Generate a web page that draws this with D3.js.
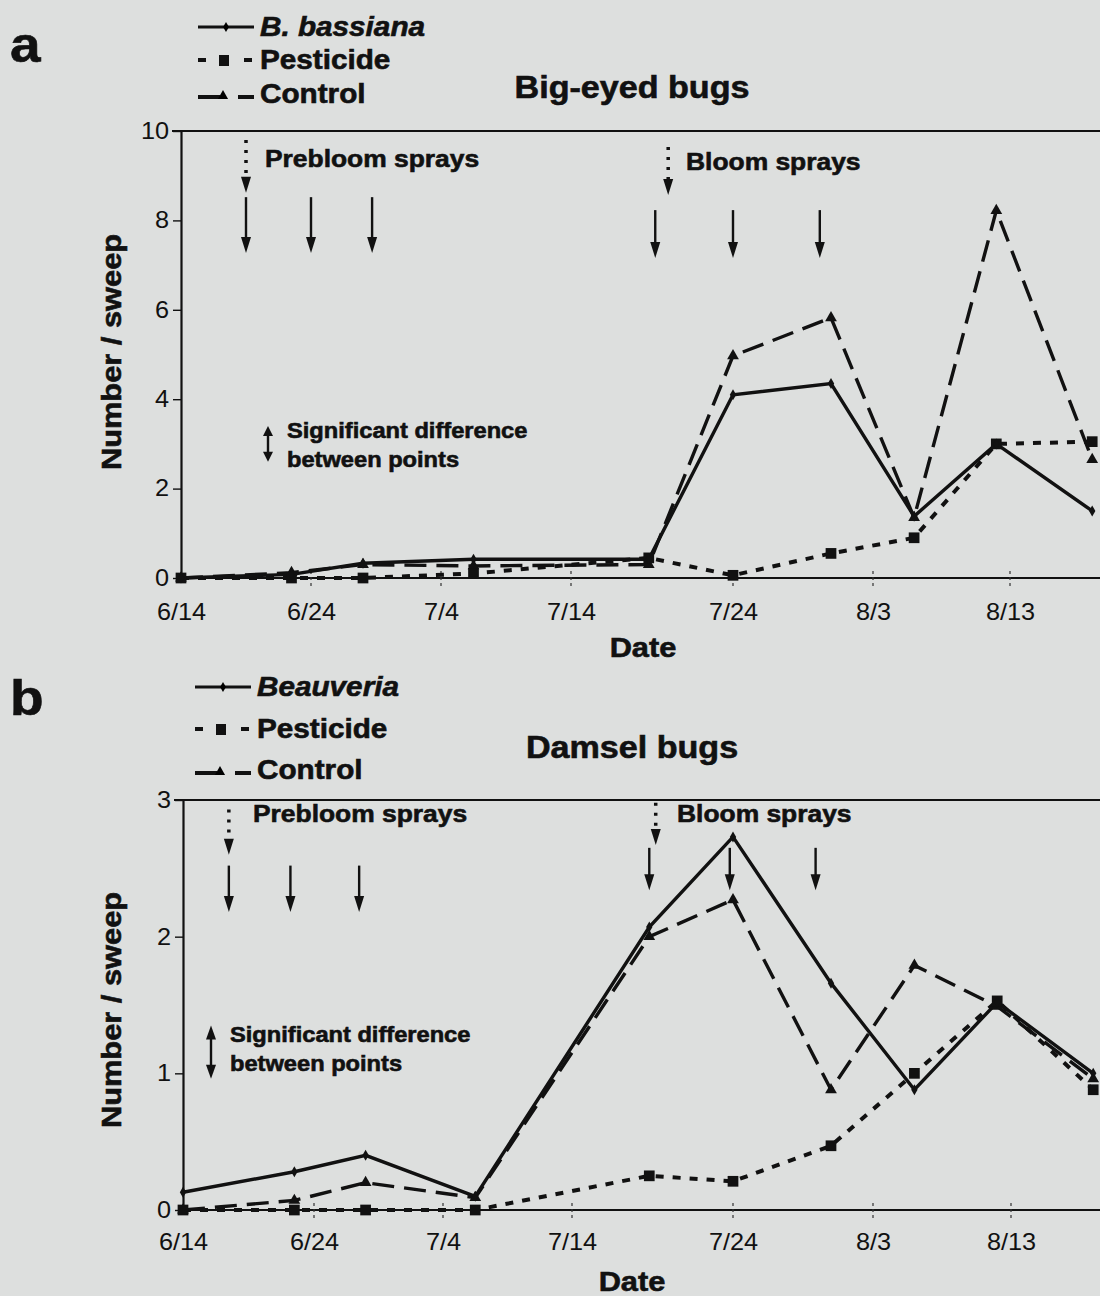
<!DOCTYPE html>
<html><head>
<meta charset="utf-8">
<script src="https://d3js.org/d3.v7.min.js"></script>
<style>
  body { margin: 0; background: #dddfde; }
  text { font-family: "Liberation Sans", Arial, sans-serif; fill: #111; }
</style>
</head>
<body>
<div id="chart"></div>
<script>

// Sampling dates, as days after 6/14
const sampleDays = [0, 8.5, 14, 22.5, 34.8, 40, 47, 53, 59, 66];
const tickDays = [0, 10, 20, 30, 40, 50, 60];
const tickLabels = ["6/14", "6/24", "7/4", "7/14", "7/24", "8/3", "8/13"];

// a) Big-eyed bugs
const bigBassiana = [0, 0.08, 0.33, 0.42, 0.42, 4.1, 4.35, 1.38, 3.0, 1.5];
const bigPesticide = [0, 0, 0, 0.1, 0.45, 0.06, 0.55, 0.9, 3.0, 3.05];
const bigControl = [0, 0.12, 0.3, 0.27, 0.3, 4.97, 5.82, 1.35, 8.22, 2.65];

// b) Damsel bugs
const damBeauveria = [0.13, 0.28, 0.4, 0.1, 2.07, 2.73, 1.66, 0.88, 1.52, 1.0];
const damPesticide = [0, 0, 0, 0, 0.25, 0.21, 0.47, 1.0, 1.53, 0.88];
const damControl = [0, 0.07, 0.2, 0.09, 2.0, 2.27, 0.88, 1.79, 1.49, 0.96];

// spray days (dotted = first, solid = the rest)
const bigPrebloom = [5, 10, 14.7], bigPrebloomDotted = 5;
const bigBloom = [35.2, 40, 46.2], bigBloomDotted = 36;
const damPrebloom = [3.5, 8.2, 13.5], damPrebloomDotted = 3.5;
const damBloom = [34.8, 39.8, 45.9], damBloomDotted = 35.2;

const SX = 1.1;   // the figure's font is wide

const svg = d3.select("#chart").append("svg")
              .attr("width", 1100).attr("height", 1296);

function txt(g, x, y, s, size, o = {}) {
  return g.append("text")
          .attr("transform", "translate(" + x + "," + y + ")" + (o.rot ? " rotate(-90)" : "") + " scale(" + SX + ",1)")
          .attr("font-size", size)
          .attr("font-weight", o.bold ? 700 : 400)
          .attr("font-style", o.italic ? "italic" : null)
          .attr("text-anchor", o.anchor || "start")
          .attr("stroke", o.bold ? "#111" : null)
          .attr("stroke-width", o.bold ? 0.6 : null)
          .text(s);
}

function head(g, x, tip, dir, len = 16, w = 5) {
  // dir = 1 points down, -1 points up
  g.append("path")
   .attr("d", "M" + (x - w) + "," + (tip - dir * len) + "L" + (x + w) + "," + (tip - dir * len) + "L" + x + "," + tip + "Z")
   .attr("fill", "#111");
}

function arrow(g, x, yTop, yTip, dotted) {
  g.append("line")
   .attr("x1", x).attr("x2", x)
   .attr("y1", yTop).attr("y2", yTip - 14)
   .attr("stroke", "#111")
   .attr("stroke-width", dotted ? 3.5 : 2.4)
   .attr("stroke-dasharray", dotted ? "3,7" : null);
  head(g, x, yTip, 1);
}

function drawPanel(p) {
  const g = svg.append("g");
  const x = d3.scaleLinear().domain([0, 10, 20, 30, 40, 50, 60, 70]).range(p.xRange);
  const y = d3.scaleLinear().domain([0, p.yMax]).range([p.y0, p.yTop]);
  const left = p.xRange[0];

  // panel letter, legend, title
  txt(g, p.letter[0], p.letter[1], p.letter[2], 50, { bold: true });

  const lg = g.append("g");
  const lx = p.legendX;
  p.legendY.forEach((ly, i) => {
    txt(lg, lx + 62, ly, p.names[i], 27, { bold: true, italic: i === 0 });
  });
  let ly = p.legendY[0] - 9;
  lg.append("line").attr("x1", lx).attr("x2", lx + 56).attr("y1", ly).attr("y2", ly)
    .attr("stroke", "#111").attr("stroke-width", 3);
  lg.append("path").attr("d", d3.symbol(d3.symbolDiamond, 30)()).attr("transform", "translate(" + (lx + 28) + "," + ly + ")");
  ly = p.legendY[1] - 9;
  lg.append("line").attr("x1", lx).attr("x2", lx + 8).attr("y1", ly).attr("y2", ly).attr("stroke", "#111").attr("stroke-width", 4);
  lg.append("line").attr("x1", lx + 46).attr("x2", lx + 54).attr("y1", ly).attr("y2", ly).attr("stroke", "#111").attr("stroke-width", 4);
  lg.append("rect").attr("x", lx + 21).attr("y", ly - 5).attr("width", 10).attr("height", 11).attr("fill", "#111");
  ly = p.legendY[2] - 6;
  lg.append("line").attr("x1", lx).attr("x2", lx + 22).attr("y1", ly).attr("y2", ly).attr("stroke", "#111").attr("stroke-width", 4);
  lg.append("line").attr("x1", lx + 40).attr("x2", lx + 56).attr("y1", ly).attr("y2", ly).attr("stroke", "#111").attr("stroke-width", 4);
  lg.append("path").attr("d", d3.symbol(d3.symbolTriangle, 45)()).attr("transform", "translate(" + (lx + 25) + "," + (ly - 1) + ")");

  txt(g, 632, p.titleY, p.title, 31, { bold: true, anchor: "middle" });

  // frame
  g.append("line").attr("x1", left - 9).attr("x2", 1100).attr("y1", y(p.yMax)).attr("y2", y(p.yMax))
   .attr("stroke", "#111").attr("stroke-width", 2.2);
  g.append("line").attr("x1", left).attr("x2", 1100).attr("y1", y(0)).attr("y2", y(0))
   .attr("stroke", "#111").attr("stroke-width", 2.2);

  // y axis
  const yAxis = g.append("g").attr("transform", "translate(" + left + ",0)")
                 .call(d3.axisLeft(y).tickValues(p.yTicks).tickFormat(d3.format("d"))
                         .tickSizeInner(8).tickSizeOuter(0).tickPadding(3));
  yAxis.select(".domain").attr("stroke", "#111").attr("stroke-width", 2.2);
  yAxis.selectAll(".tick line").attr("stroke", "#111").attr("stroke-width", 1.4);
  yAxis.selectAll(".tick text").attr("font-size", 23).attr("fill", "#111")
       .attr("font-family", "Liberation Sans, Arial, sans-serif")
       .attr("transform", "scale(" + SX + ",1)").attr("x", -12 / SX);

  // x axis labels
  const xAxis = g.append("g").attr("transform", "translate(0," + y(0) + ")")
                 .call(d3.axisBottom(x).tickValues(tickDays).tickFormat((d, i) => tickLabels[i]).tickSize(0).tickPadding(p.xPad));
  xAxis.select(".domain").remove();
  xAxis.selectAll(".tick text").attr("font-size", 23).attr("fill", "#111")
       .attr("font-family", "Liberation Sans, Arial, sans-serif")
       .attr("transform", "scale(" + SX + ",1)");
  // dashed date ticks crossing the axis
  g.selectAll(".dtick").data(tickDays.slice(1)).join("line")
   .attr("x1", d => x(d)).attr("x2", d => x(d))
   .attr("y1", y(0) - 7).attr("y2", y(0) + 9)
   .attr("stroke", "#333").attr("stroke-width", 1.2).attr("stroke-dasharray", "3,3");

  txt(g, p.dateX, p.dateY, "Date", 28, { bold: true, anchor: "middle" });
  txt(g, 121, p.ylabY, "Number / sweep", 28, { bold: true, anchor: "middle", rot: true });

  // spray arrows
  const ag = g.append("g");
  arrow(ag, x(p.preDot), y(p.dotTop[0]), y(p.dotTip[0]), true);
  p.pre.forEach(d => arrow(ag, x(d), y(p.solTop[0]), y(p.solTip[0]), false));
  arrow(ag, x(p.bloomDot), y(p.dotTop[1]), y(p.dotTip[1]), true);
  p.bloom.forEach(d => arrow(ag, x(d), y(p.solTop[1]), y(p.solTip[1]), false));
  txt(g, p.preText[0], p.preText[1], "Prebloom sprays", 24, { bold: true });
  txt(g, p.bloomText[0], p.bloomText[1], "Bloom sprays", 24, { bold: true });

  // significance legend
  const sx0 = p.sig[0], st = y(p.sig[1]), sb = y(p.sig[2]), hl = p.sig[4];
  ag.append("line").attr("x1", sx0).attr("x2", sx0).attr("y1", st + hl - 2).attr("y2", sb - hl + 2)
    .attr("stroke", "#111").attr("stroke-width", 2.4);
  head(ag, sx0, st, -1, hl, 5);
  head(ag, sx0, sb, 1, hl, 5);
  txt(g, sx0 + 19, p.sig[3], "Significant difference", 21.5, { bold: true });
  txt(g, sx0 + 19, p.sig[3] + 29, "between points", 21.5, { bold: true });

  // series
  const line = d3.line().x((d, i) => x(sampleDays[i])).y(d => y(d));
  g.append("path").attr("d", line(p.series[2])).attr("fill", "none")
   .attr("stroke", "#111").attr("stroke-width", 3.4).attr("stroke-dasharray", "22,10");
  g.append("path").attr("d", line(p.series[1])).attr("fill", "none")
   .attr("stroke", "#111").attr("stroke-width", 4).attr("stroke-dasharray", "8,9");
  g.append("path").attr("d", line(p.series[0])).attr("fill", "none")
   .attr("stroke", "#111").attr("stroke-width", 3.4);

  const shapes = [[d3.symbolDiamond, 35], [d3.symbolSquare, 115], [d3.symbolTriangle, 60]];
  [2, 1, 0].forEach(s => {
    g.selectAll(null).data(p.series[s]).join("path")
     .attr("d", d3.symbol(shapes[s][0], shapes[s][1])())
     .attr("transform", (d, i) => "translate(" + x(sampleDays[i]) + "," + y(d) + ")")
     .attr("fill", "#111");
  });
}

drawPanel({
  letter: [10, 62, "a"], legendX: 198, legendY: [36, 69, 103],
  names: ["B. bassiana", "Pesticide", "Control"],
  title: "Big-eyed bugs", titleY: 98,
  xRange: [181, 311, 441, 571, 733, 873, 1010, 1147],
  yMax: 10, y0: 578, yTop: 131, yTicks: [0, 2, 4, 6, 8, 10], xPad: 26,
  dateX: 643, dateY: 657, ylabY: 352,
  preDot: bigPrebloomDotted, pre: bigPrebloom, bloomDot: bigBloomDotted, bloom: bigBloom,
  dotTop: [9.8, 9.64], dotTip: [8.62, 8.57], solTop: [8.52, 8.23], solTip: [7.27, 7.16],
  preText: [265, 167], bloomText: [686, 170],
  sig: [268, 3.4, 2.6, 438, 10],
  series: [bigBassiana, bigPesticide, bigControl]
});

drawPanel({
  letter: [10, 715, "b"], legendX: 195, legendY: [696, 738, 779],
  names: ["Beauveria", "Pesticide", "Control"],
  title: "Damsel bugs", titleY: 758,
  xRange: [183, 314, 443, 572, 733, 873, 1011, 1148],
  yMax: 3, y0: 1210, yTop: 800, yTicks: [0, 1, 2, 3], xPad: 24,
  dateX: 632, dateY: 1291, ylabY: 1010,
  preDot: damPrebloomDotted, pre: damPrebloom, bloomDot: damBloomDotted, bloom: damBloom,
  dotTop: [2.93, 2.98], dotTip: [2.6, 2.67], solTop: [2.52, 2.65], solTip: [2.18, 2.34],
  preText: [253, 822], bloomText: [677, 822],
  sig: [211, 1.35, 0.96, 1042, 14],
  series: [damBeauveria, damPesticide, damControl]
});

</script>
</body>
</html>
